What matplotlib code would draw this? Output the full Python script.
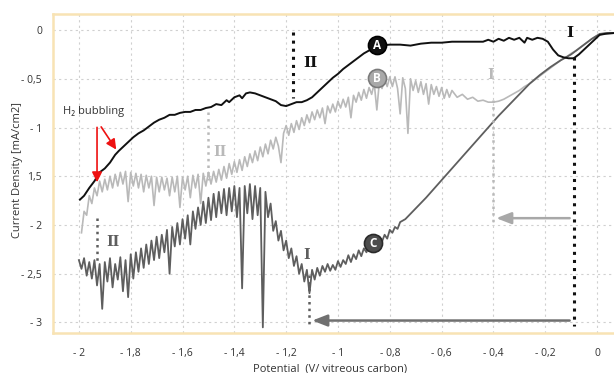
import numpy as np
import matplotlib
matplotlib.use('Agg')
import matplotlib.pyplot as plt

plt.rcParams['font.family'] = ['Open Sans', 'DejaVu Sans']

# curve A (black)
a_x = [-1.996, -1.98, -1.96, -1.94, -1.92, -1.90, -1.88, -1.86, -1.846, -1.83,
       -1.81, -1.79, -1.77, -1.75, -1.73, -1.71, -1.69, -1.67, -1.65, -1.63,
       -1.61, -1.59, -1.57, -1.55, -1.53, -1.51, -1.49, -1.47, -1.45, -1.43,
       -1.42, -1.40, -1.38, -1.37, -1.355, -1.34, -1.32, -1.30, -1.28, -1.26,
       -1.24, -1.22, -1.20, -1.18, -1.16, -1.14, -1.12, -1.10, -1.08, -1.06,
       -1.04, -1.02, -1.00, -0.98, -0.96, -0.94, -0.92, -0.90, -0.88, -0.86,
       -0.84, -0.80, -0.76, -0.72, -0.68, -0.64, -0.60, -0.56, -0.52, -0.48,
       -0.44, -0.42, -0.40, -0.38, -0.36, -0.34, -0.32, -0.30, -0.28, -0.27,
       -0.25, -0.23, -0.21, -0.19, -0.17, -0.15, -0.13, -0.11, -0.09, -0.07,
       -0.05, -0.03, -0.01, 0.01, 0.03, 0.07]
a_y = [-1.74, -1.70, -1.62, -1.55, -1.46, -1.42, -1.36, -1.28, -1.24, -1.20,
       -1.15, -1.10, -1.06, -1.03, -0.99, -0.95, -0.92, -0.90, -0.87, -0.87,
       -0.85, -0.84, -0.84, -0.82, -0.82, -0.80, -0.79, -0.76, -0.77, -0.72,
       -0.74, -0.69, -0.67, -0.70, -0.65, -0.64, -0.65, -0.67, -0.69, -0.71,
       -0.73, -0.77, -0.78, -0.76, -0.74, -0.74, -0.72, -0.69, -0.64, -0.59,
       -0.54, -0.49, -0.45, -0.40, -0.36, -0.32, -0.28, -0.24, -0.21, -0.17,
       -0.16, -0.15, -0.15, -0.16, -0.14, -0.13, -0.13, -0.12, -0.12, -0.12,
       -0.12, -0.10, -0.12, -0.09, -0.11, -0.08, -0.10, -0.08, -0.13, -0.08,
       -0.10, -0.08, -0.09, -0.12, -0.20, -0.26, -0.28, -0.29, -0.29, -0.25,
       -0.20, -0.15, -0.10, -0.05, -0.04, -0.03]

# curve B (light grey, noisy)
b_x = [-1.99, -1.98, -1.97, -1.96, -1.95, -1.94, -1.93, -1.92, -1.91, -1.90,
       -1.89, -1.88, -1.87, -1.86, -1.85, -1.84, -1.83, -1.82, -1.81, -1.80,
       -1.79, -1.78, -1.77, -1.76, -1.75, -1.74, -1.73, -1.72, -1.71, -1.70,
       -1.69, -1.68, -1.67, -1.66, -1.65, -1.64, -1.63, -1.62, -1.61, -1.60,
       -1.59, -1.58, -1.57, -1.56, -1.55, -1.54, -1.53, -1.52, -1.51, -1.50,
       -1.49, -1.48, -1.47, -1.46, -1.45, -1.44, -1.43, -1.42, -1.41, -1.40,
       -1.39, -1.38, -1.37, -1.36, -1.35, -1.34, -1.33, -1.32, -1.31, -1.30,
       -1.29, -1.28, -1.27, -1.26, -1.25, -1.24, -1.23, -1.22, -1.21, -1.20,
       -1.19, -1.18, -1.17, -1.16, -1.15, -1.14, -1.13, -1.12, -1.11, -1.10,
       -1.09, -1.08, -1.07, -1.06, -1.05, -1.04, -1.03, -1.02, -1.01, -1.00,
       -0.99, -0.98, -0.97, -0.96, -0.95, -0.94, -0.93, -0.92, -0.91, -0.90,
       -0.89, -0.88, -0.87, -0.86, -0.85, -0.84, -0.83, -0.82, -0.81, -0.80,
       -0.79, -0.78, -0.77, -0.76, -0.75, -0.74, -0.73, -0.72, -0.71, -0.70,
       -0.69, -0.68, -0.67, -0.66, -0.65, -0.64, -0.63, -0.62, -0.61, -0.60,
       -0.59, -0.58, -0.57, -0.56,
       -0.54, -0.52, -0.50, -0.48, -0.46, -0.44, -0.42, -0.40, -0.38, -0.36,
       -0.34, -0.32, -0.30, -0.28, -0.26, -0.24, -0.22, -0.20, -0.18, -0.16,
       -0.14, -0.12, -0.10, -0.08, -0.06, -0.04, -0.02, 0.00, 0.02, 0.04, 0.07]
b_y = [-2.08, -1.86, -1.90, -1.70, -1.78, -1.62, -1.70, -1.55, -1.66, -1.53,
       -1.64, -1.50, -1.62, -1.48, -1.60, -1.46, -1.58, -1.45, -1.76, -1.46,
       -1.60, -1.47, -1.62, -1.48, -1.66, -1.49, -1.62, -1.50, -1.80, -1.51,
       -1.66, -1.51, -1.64, -1.52, -1.70, -1.51, -1.66, -1.50, -1.82, -1.51,
       -1.64, -1.50, -1.72, -1.49, -1.62, -1.48, -1.78, -1.47, -1.60, -1.46,
       -1.58, -1.45, -1.56, -1.43, -1.54, -1.40, -1.52, -1.37, -1.48, -1.35,
       -1.46, -1.33, -1.44, -1.30, -1.40, -1.27, -1.36, -1.24, -1.34, -1.20,
       -1.30, -1.17, -1.27, -1.13, -1.22, -1.10, -1.19, -1.36, -1.06, -0.98,
       -1.08, -0.96, -1.05, -0.93, -1.02, -0.90, -0.98, -0.87, -0.95, -0.84,
       -0.92, -0.82, -0.90, -0.80, -0.96, -0.78, -0.85, -0.76, -0.84, -0.73,
       -0.80, -0.71, -0.79, -0.69, -0.90, -0.67, -0.74, -0.64, -0.72, -0.61,
       -0.70, -0.59, -0.66, -0.55, -0.82, -0.52, -0.60, -0.50, -0.58, -0.48,
       -0.58, -0.48, -0.60, -0.86, -0.49, -0.60, -1.06, -0.50, -0.62, -0.52,
       -0.64, -0.53, -0.66, -0.55, -0.76, -0.56, -0.66, -0.58, -0.68, -0.59,
       -0.70, -0.61, -0.69, -0.62,
       -0.69, -0.66, -0.71, -0.69, -0.73, -0.72, -0.74, -0.74, -0.73, -0.71,
       -0.68, -0.65, -0.62, -0.58, -0.55, -0.51, -0.47, -0.43, -0.39, -0.35,
       -0.31, -0.28, -0.24, -0.21, -0.17, -0.13, -0.09, -0.06, -0.04, -0.03, -0.03]

# curve C (dark grey, noisy then straight)
c_x = [-2.00, -1.99, -1.98, -1.97, -1.96, -1.95, -1.94, -1.93, -1.92, -1.91,
       -1.90, -1.89, -1.88, -1.87, -1.86, -1.85, -1.84, -1.83, -1.82, -1.81,
       -1.80, -1.79, -1.78, -1.77, -1.76, -1.75, -1.74, -1.73, -1.72, -1.71,
       -1.70, -1.69, -1.68, -1.67, -1.66, -1.65, -1.64, -1.63, -1.62, -1.61,
       -1.60, -1.59, -1.58, -1.57, -1.56, -1.55, -1.54, -1.53, -1.52, -1.51,
       -1.50, -1.49, -1.48, -1.47, -1.46, -1.45, -1.44, -1.43, -1.42, -1.41,
       -1.40, -1.39, -1.38, -1.37, -1.36, -1.35, -1.34, -1.33, -1.32, -1.31,
       -1.30, -1.29, -1.28, -1.27, -1.26, -1.25, -1.24, -1.23, -1.22, -1.21,
       -1.20, -1.19, -1.18, -1.17, -1.16, -1.15, -1.14, -1.13, -1.12, -1.11,
       -1.10, -1.09, -1.08, -1.07, -1.06, -1.05,
       -1.04, -1.03, -1.02, -1.01, -1.00, -0.99, -0.98, -0.97, -0.96, -0.95,
       -0.94, -0.93, -0.92, -0.91, -0.90, -0.89, -0.88, -0.87, -0.86, -0.85,
       -0.84, -0.83, -0.82, -0.81, -0.80, -0.79, -0.78, -0.77, -0.76,
       -0.74, -0.70, -0.66, -0.62, -0.58, -0.54, -0.50, -0.46, -0.42, -0.38,
       -0.34, -0.30, -0.26, -0.22, -0.18, -0.14, -0.10, -0.06, -0.02, 0.01,
       0.04, 0.07]
c_y = [-2.36, -2.45, -2.34, -2.52, -2.38, -2.55, -2.36, -2.62, -2.40, -2.86,
       -2.38, -2.58, -2.34, -2.64, -2.40, -2.56, -2.33, -2.68, -2.36, -2.74,
       -2.30, -2.55, -2.28, -2.48, -2.24, -2.44, -2.20, -2.40, -2.16, -2.36,
       -2.12, -2.34, -2.10, -2.28, -2.05, -2.50, -2.02, -2.22, -1.98, -2.20,
       -1.94, -2.14, -1.90, -2.20, -1.86, -2.04, -1.82, -2.00, -1.76, -1.98,
       -1.72, -1.95, -1.68, -1.92, -1.66, -1.88, -1.63, -1.90, -1.62, -1.86,
       -1.60, -1.92, -1.62, -2.65, -1.60, -1.88, -1.58, -1.94, -1.60, -1.90,
       -1.62, -3.05, -1.66, -1.92, -1.78, -2.06, -1.96, -2.16, -2.06, -2.26,
       -2.16, -2.34, -2.24, -2.42, -2.32, -2.50, -2.40, -2.58, -2.46, -2.70,
       -2.46, -2.56, -2.44, -2.52, -2.42, -2.48,
       -2.40, -2.47, -2.41, -2.46, -2.37, -2.43, -2.36, -2.40, -2.31, -2.38,
       -2.30, -2.35, -2.26, -2.32, -2.24, -2.28, -2.20, -2.25, -2.17, -2.22,
       -2.12, -2.17, -2.10, -2.14, -2.05, -2.08, -2.02, -2.04, -1.97,
       -1.94, -1.83, -1.72, -1.60, -1.48, -1.36, -1.24, -1.12, -1.00, -0.88,
       -0.77, -0.66, -0.55, -0.46, -0.38, -0.31, -0.25, -0.17, -0.09, -0.04,
       -0.03, -0.03]

x_ticks = [-2, -1.8, -1.6, -1.4, -1.2, -1, -0.8, -0.6, -0.4, -0.2, 0]
x_labels = ['- 2', '- 1,8', '- 1,6', '- 1,4', '- 1,2', '- 1', '- 0,8', '- 0,6', '- 0,4', '- 0,2', '0']
y_ticks = [0, -0.5, -1, -1.5, -2, -2.5, -3]
y_labels = ['0', '- 0,5', '- 1', '1,5', '- 2', '- 2,5', '- 3']

black = '#111111'
light = '#b9b9b9'
dark = '#5e5e5e'

fig = plt.figure(figsize=(6.14, 3.73), dpi=100)
ax = fig.add_axes([0.0863, 0.1072, 0.9169, 0.8552])

ax.plot(b_x, b_y, color=light, lw=1.2, zorder=2)
ax.plot(c_x, c_y, color=dark, lw=1.3, zorder=3)
ax.plot(a_x, a_y, color=black, lw=1.4, zorder=4)

ax.set_xlim(-2.1, 0.073)
ax.set_ylim(-3.108, 0.164)
ax.set_xticks(x_ticks)
ax.set_xticklabels(x_labels)
ax.set_yticks(y_ticks)
ax.set_yticklabels(y_labels)
ax.tick_params(length=0, labelsize=7.5, labelcolor='#333333')
ax.tick_params(axis='x', pad=11)
ax.tick_params(axis='y', pad=8)
ax.grid(True, color='#d0d0d0', linestyle=(0, (2, 3)), lw=0.8)
for s in ax.spines.values():
    s.set_color('#f8e3b4')
    s.set_linewidth(1.8)

fig.text(0.029, 0.545, 'Current Density [mA/cm2]', rotation=90,
         ha='center', va='center', fontsize=8, color='#333333')
fig.text(0.538, 0.026, 'Potential  (V/ vitreous carbon)',
         ha='center', va='top', fontsize=8, color='#333333')

# dotted markers of regions
serif = ['DejaVu Serif']
ax.plot([-1.174, -1.174], [-0.02, -0.70], color=black, ls=':', lw=2.2, zorder=5)
ax.text(-1.108, -0.34, 'II', color=black, fontsize=11, fontweight='bold',
        family=serif, ha='center', va='center')
ax.plot([-0.09, -0.09], [-0.28, -3.04], color=black, ls=':', lw=2.2, zorder=5)
ax.text(-0.105, -0.03, 'I', color=black, fontsize=11, fontweight='bold',
        family=serif, ha='center', va='center')

ax.plot([-1.50, -1.50], [-0.84, -1.54], color=light, ls=':', lw=1.8, zorder=5)
ax.text(-1.455, -1.25, 'II', color=light, fontsize=10, fontweight='bold',
        family=serif, ha='center', va='center')
ax.plot([-0.40, -0.40], [-0.72, -2.0], color=light, ls=':', lw=1.8, zorder=5)
ax.text(-0.41, -0.46, 'I', color=light, fontsize=10, fontweight='bold',
        family=serif, ha='center', va='center')

ax.plot([-1.93, -1.93], [-1.93, -2.38], color=dark, ls=':', lw=1.8, zorder=5)
ax.text(-1.87, -2.17, 'II', color=dark, fontsize=10, fontweight='bold',
        family=serif, ha='center', va='center')
ax.plot([-1.11, -1.11], [-2.51, -3.03], color=dark, ls=':', lw=1.8, zorder=5)
ax.text(-1.12, -2.31, 'I', color=dark, fontsize=10, fontweight='bold',
        family=serif, ha='center', va='center')

# horizontal arrows
ax.annotate('', xy=(-0.40, -1.93), xytext=(-0.095, -1.93),
            arrowprops=dict(arrowstyle='-|>,head_length=0.9,head_width=0.35',
                            color='#a8a8a8', lw=1.8), zorder=5)
ax.annotate('', xy=(-1.11, -2.98), xytext=(-0.095, -2.98),
            arrowprops=dict(arrowstyle='-|>,head_length=0.9,head_width=0.35',
                            color='#707070', lw=1.8), zorder=5)

# curve labels
for lx, ly, lt, fc, ec in [(-0.85, -0.15, 'A', '#111111', '#000000'),
                           (-0.85, -0.49, 'B', '#a9a9a9', '#7a7a7a'),
                           (-0.865, -2.18, 'C', '#4d4d4d', '#2a2a2a')]:
    ax.plot(lx, ly, 'o', ms=13, mfc=fc, mec=ec, mew=1.2, zorder=6)
    ax.text(lx, ly - 0.005, lt, color='white', fontsize=8.5, fontweight='bold',
            ha='center', va='center', zorder=7)

# H2 bubbling
ax.text(-2.062, -0.84, 'H\u2082 bubbling', fontsize=8, color='#333333',
        ha='left', va='center')
ax.annotate('', xy=(-1.93, -1.59), xytext=(-1.93, -0.97),
            arrowprops=dict(arrowstyle='-|>,head_length=0.6,head_width=0.3',
                            color='#ee1111', lw=1.2), zorder=6)
ax.annotate('', xy=(-1.85, -1.25), xytext=(-1.92, -0.97),
            arrowprops=dict(arrowstyle='-|>,head_length=0.6,head_width=0.3',
                            color='#ee1111', lw=1.2), zorder=6)

fig.savefig('out.png', dpi=100)
